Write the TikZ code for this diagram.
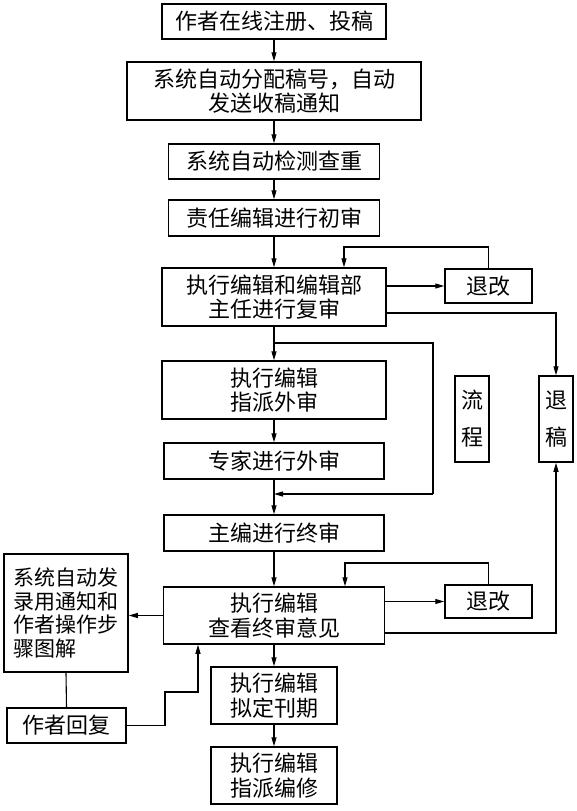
\documentclass[tikz,border=0pt]{standalone}
\usepackage{fontspec}
\setmainfont{Noto Sans CJK SC}
\usetikzlibrary{arrows.meta}
\newcommand\mybox[6]{\node[box,minimum width={#4-#2},minimum height={#5-#3}] (#1) at ({(#2+#4)/2},{(#3+#5)/2}) {#6};}
\begin{document}
\begin{tikzpicture}[x=1pt,y=-1pt,
  box/.style={draw,line width=1.5pt,inner sep=0pt,align=center,font=\fontsize{22}{24.5}\selectfont},
  vbox/.style={box,font=\fontsize{22}{37}\selectfont},
  lbox/.style={box,align=left,font=\fontsize{21}{23.5}\selectfont},
  conn/.style={line width=1.1pt},
  arr/.style={conn,-{Triangle[length=9pt,width=5pt]}}]
\useasboundingbox (0,0) rectangle (577,811);
\mybox{b1}{162}{4}{386}{39}{作者在线注册、投稿}
\mybox{b2}{127}{62}{421}{120}{系统自动分配稿号，自动\\发送收稿通知}
\mybox{b3}{168.5}{144}{379.5}{179}{系统自动检测查重}
\mybox{b4}{168.5}{200}{379.5}{236}{责任编辑进行初审}
\mybox{b5}{162}{268}{386}{326}{执行编辑和编辑部\\主任进行复审}
\mybox{tg1}{445}{269}{532}{303}{退改}
\mybox{b6}{162}{361}{386}{419}{执行编辑\\指派外审}
\mybox{b7}{164}{443}{384}{479}{专家进行外审}
\mybox{b8}{164}{515}{384}{551}{主编进行终审}
\mybox{b9}{163.5}{587}{384.5}{644}{执行编辑\\查看终审意见}
\mybox{tg2}{445}{585}{532}{618}{退改}
\mybox{b10}{211}{667}{337}{724}{执行编辑\\拟定刊期}
\mybox{b11}{211}{747}{337}{804}{执行编辑\\指派编修}
\node[vbox,minimum width=34,minimum height=86] (lc) at (472,419) {流\\程};
\node[vbox,minimum width=34,minimum height=86] (tgao) at (556,419) {退\\稿};
\node[lbox,minimum width=124,minimum height=118] (left) at (66,613) {系统自动发\\录用通知和\\作者操作步\\骤图解};
\mybox{reply}{7}{708}{126}{743}{作者回复}
% main chain
\draw[arr] (b1.south) -- (b2.north);
\draw[arr] (b2.south) -- (b3.north);
\draw[arr] (b3.south) -- (b4.north);
\draw[arr] (b4.south) -- (b5.north);
\draw[arr] (b5.south) -- (b6.north);
\draw[arr] (b6.south) -- (b7.north);
\draw[arr] (b7.south) -- (b8.north);
\draw[arr] (b8.south) -- (b9.north);
\draw[arr] (b9.south) -- (b10.north);
\draw[arr] (b10.south) -- (b11.north);
% review loop 1
\coordinate (f1) at (344,247);
\draw[arr] (b5.east |- tg1.west) -- (tg1.west);
\draw[arr] (tg1.north) |- (f1) -- (f1 |- b5.north);
\draw[arr] ([yshift=-16pt]b5.east) -| (tgao.north);
% bypass of external review
\coordinate (s1) at (433,343);
\coordinate (s2) at (433,494);
\draw[conn] (b5.south |- s1) -- (s1) -- (s2);
\draw[arr] (s2) -- (b7.south |- s2);
% review loop 2
\coordinate (f2) at (345,563);
\draw[arr] (b9.east |- tg2.west) -- (tg2.west);
\draw[arr] (tg2.north) |- (f2) -- (f2 |- b9.north);
\draw[arr] ([yshift=-17.5pt]b9.east) -| (tgao.south);
% author side
\draw[arr] (b9.west) -- (left.east |- b9.west);
\draw[conn] (left.south) -- (reply.north);
\coordinate (r1) at (165,692);
\coordinate (r2) at (198,692);
\draw[arr] (reply.east) -| (r1) -- (r2) -- (r2 |- b9.south);
\end{tikzpicture}
\end{document}
